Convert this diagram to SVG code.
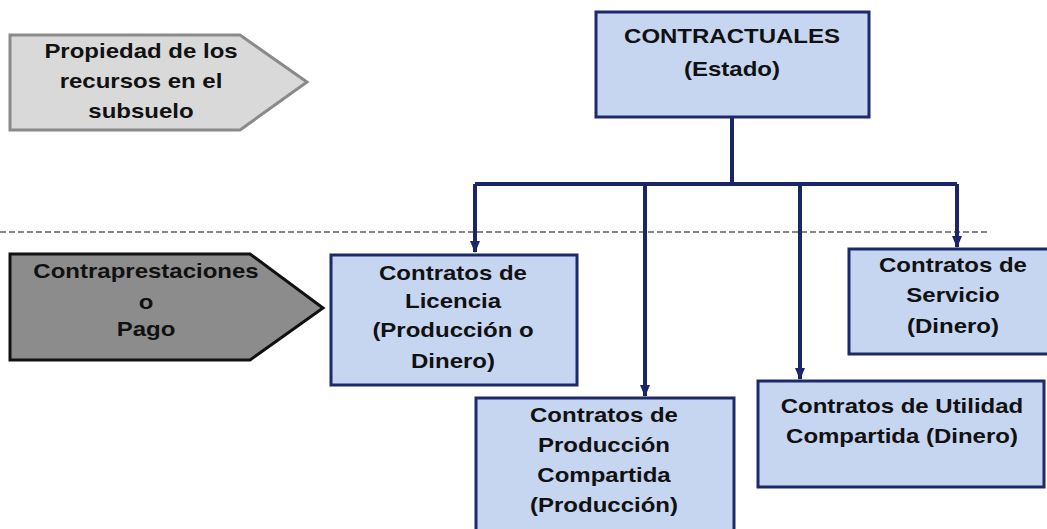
<svg xmlns="http://www.w3.org/2000/svg" width="1047" height="529" viewBox="0 0 1047 529">
<style>
.t{font-family:"Liberation Sans",Arial,sans-serif;font-weight:bold;font-size:20px;fill:#111;text-anchor:middle}
.box{fill:#c6d5f0;stroke:#1c2a6a;stroke-width:3}
.con{fill:none;stroke:#1a2668;stroke-width:4}
</style>
<defs>
<marker id="ah" markerUnits="userSpaceOnUse" markerWidth="12" markerHeight="10" refX="11" refY="5" orient="auto">
<path d="M0,0 L12,5 L0,10 Z" fill="#1a2668"/>
</marker>
</defs>
<rect width="1047" height="529" fill="#fff"/>
<line x1="0" y1="232" x2="988" y2="232" stroke="#111" stroke-width="1.2" stroke-dasharray="6,3"/>
<g id="propiedad">
<polygon points="10,35 240,35 307,82 240,130 10,130" fill="#d9d9d9" stroke="#8a8a8a" stroke-width="3"/>
<text class="t" transform="translate(141,58) scale(1.2,1)">Propiedad de los</text>
<text class="t" transform="translate(141,88) scale(1.2,1)">recursos en el</text>
<text class="t" transform="translate(141,118) scale(1.2,1)">subsuelo</text>
</g>
<g id="contraprestaciones">
<polygon points="10,254 250,254 323,308 250,360 10,360" fill="#8c8c8c" stroke="#111" stroke-width="3"/>
<text class="t" transform="translate(146,278) scale(1.2,1)">Contraprestaciones</text>
<text class="t" transform="translate(146,309) scale(1.2,1)">o</text>
<text class="t" transform="translate(146,336) scale(1.2,1)">Pago</text>
</g>
<g id="connectors">
<path class="con" d="M732,117 V184 M475,184 H957"/>
<path class="con" d="M475,184 V252" marker-end="url(#ah)"/>
<path class="con" d="M645,184 V396" marker-end="url(#ah)"/>
<path class="con" d="M800,184 V379" marker-end="url(#ah)"/>
<path class="con" d="M957,184 V247" marker-end="url(#ah)"/>
</g>
<g id="contractuales">
<rect class="box" x="596" y="12" width="273" height="105"/>
<text class="t" transform="translate(732,43) scale(1.2,1)">CONTRACTUALES</text>
<text class="t" transform="translate(732,76) scale(1.2,1)">(Estado)</text>
</g>
<g id="licencia">
<rect class="box" x="331" y="255" width="246" height="130"/>
<text class="t" transform="translate(453,280) scale(1.2,1)">Contratos de</text>
<text class="t" transform="translate(453,308) scale(1.2,1)">Licencia</text>
<text class="t" transform="translate(453,337) scale(1.2,1)">(Producción o</text>
<text class="t" transform="translate(453,368) scale(1.2,1)">Dinero)</text>
</g>
<g id="produccion">
<rect class="box" x="476" y="398" width="258" height="140"/>
<text class="t" transform="translate(604,422) scale(1.2,1)">Contratos de</text>
<text class="t" transform="translate(604,452) scale(1.2,1)">Producción</text>
<text class="t" transform="translate(604,482) scale(1.2,1)">Compartida</text>
<text class="t" transform="translate(604,512) scale(1.2,1)">(Producción)</text>
</g>
<g id="servicio">
<rect class="box" x="849" y="249" width="205" height="105"/>
<text class="t" transform="translate(953,272) scale(1.2,1)">Contratos de</text>
<text class="t" transform="translate(953,302) scale(1.2,1)">Servicio</text>
<text class="t" transform="translate(953,333) scale(1.2,1)">(Dinero)</text>
</g>
<g id="utilidad">
<rect class="box" x="758" y="381" width="286" height="106"/>
<text class="t" transform="translate(902,413) scale(1.2,1)">Contratos de Utilidad</text>
<text class="t" transform="translate(902,443) scale(1.2,1)">Compartida (Dinero)</text>
</g>
</svg>
